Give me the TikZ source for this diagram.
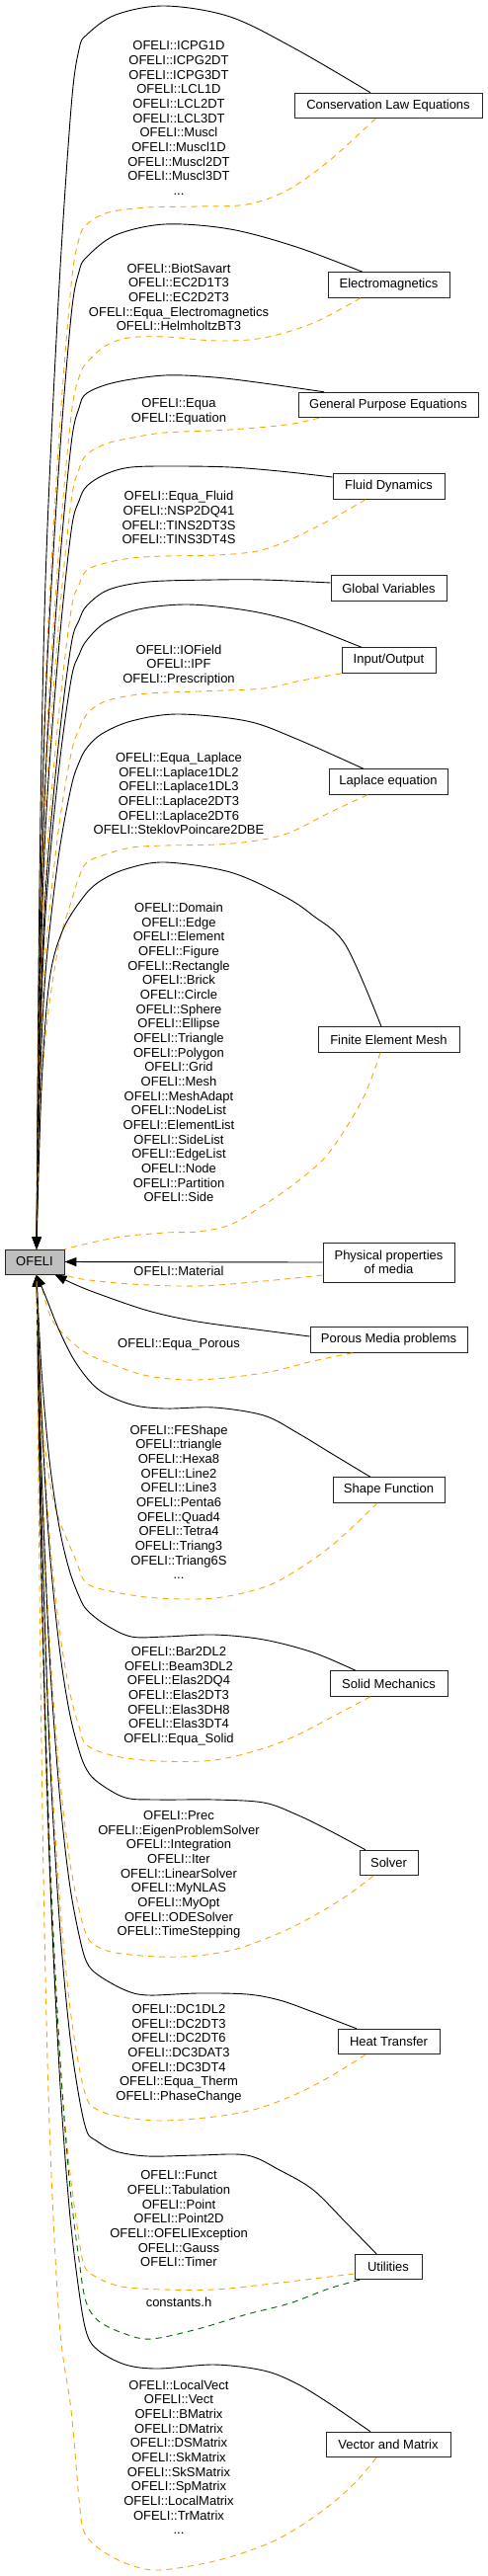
\documentclass[tikz,border=0pt]{standalone}
\usepackage{fontspec}
\setmainfont{Liberation Sans}
\usetikzlibrary{calc,arrows.meta}
\newcommand{\lblfont}{\fontsize{13pt}{14.67pt}\selectfont}
\definecolor{dxorange}{HTML}{FFA500}
\definecolor{dxgreen}{HTML}{006400}
\definecolor{dxgray}{HTML}{BFBFBF}
\begin{document}
\begin{tikzpicture}[x=1pt,y=-1pt,
  box/.style={draw=black!85, line width=0.9pt, fill=white, minimum height=25.5pt, inner sep=0pt, font=\lblfont},
  lbl/.style={font=\lblfont, align=center, inner sep=0pt},
  sedge/.style={draw=black, line width=0.9pt, -{Triangle[length=12pt,width=9pt]}},
  dedge/.style={draw=dxorange, line width=0.9pt, dash pattern=on 6pt off 5pt},
  gedge/.style={draw=dxgreen, line width=0.9pt, dash pattern=on 6pt off 5pt},
  sm/.style={smooth, tension=0.55}]
\useasboundingbox (0,0) rectangle (493,2608);

% ---------- nodes ----------
\node[box, minimum width=190pt] (cle) at (393,107) {Conservation Law Equations};
\node[box, minimum width=123pt] (em) at (393.5,288.5) {Electromagnetics};
\node[box, minimum width=182pt] (gpe) at (393,410) {General Purpose Equations};
\node[box, minimum width=113pt] (fd) at (393.5,492.5) {Fluid Dynamics};
\node[box, minimum width=117pt] (gv) at (393.5,595.5) {Global Variables};
\node[box, minimum width=95pt] (io) at (393.5,668.5) {Input/Output};
\node[box, minimum width=120pt] (lap) at (393,791.5) {Laplace equation};
\node[box, minimum width=143pt] (fem) at (393.5,1052.5) {Finite Element Mesh};
\node[box, minimum width=60pt, minimum height=25pt, fill=dxgray] (ofeli) at (35,1277.5) {OFELI};
\node[box, minimum width=133pt, minimum height=40pt, align=center] (phys) at (393.5,1278) {Physical properties\\of media};
\node[box, minimum width=159pt] (por) at (393.5,1356.5) {Porous Media problems};
\node[box, minimum width=113pt] (sf) at (393.5,1508.5) {Shape Function};
\node[box, minimum width=119pt] (smx) at (393.5,1704.5) {Solid Mechanics};
\node[box, minimum width=59pt] (sol) at (393.5,1886) {Solver};
\node[box, minimum width=103pt] (ht) at (393.5,2067) {Heat Transfer};
\node[box, minimum width=68pt] (ut) at (393,2295) {Utilities};
\node[box, minimum width=126pt] (vm) at (393,2475) {Vector and Matrix};

% ---------- labels ----------
\node[lbl] (cleL) at (181,119.6) {OFELI::ICPG1D\\OFELI::ICPG2DT\\OFELI::ICPG3DT\\OFELI::LCL1D\\OFELI::LCL2DT\\OFELI::LCL3DT\\OFELI::Muscl\\OFELI::Muscl1D\\OFELI::Muscl2DT\\OFELI::Muscl3DT\\...};
\node[lbl] (emL) at (181,301) {OFELI::BiotSavart\\OFELI::EC2D1T3\\OFELI::EC2D2T3\\OFELI::Equa\_Electromagnetics\\OFELI::HelmholtzBT3};
\node[lbl] (gpeL) at (181,416.6) {OFELI::Equa\\OFELI::Equation};
\node[lbl] (fdL) at (181,524.3) {OFELI::Equa\_Fluid\\OFELI::NSP2DQ41\\OFELI::TINS2DT3S\\OFELI::TINS3DT4S};
\node[lbl] (ioL) at (181,673.4) {OFELI::IOField\\OFELI::IPF\\OFELI::Prescription};
\node[lbl] (lapL) at (181,803.4) {OFELI::Equa\_Laplace\\OFELI::Laplace1DL2\\OFELI::Laplace1DL3\\OFELI::Laplace2DT3\\OFELI::Laplace2DT6\\OFELI::SteklovPoincare2DBE};
\node[lbl] (femL) at (181,1065.4) {OFELI::Domain\\OFELI::Edge\\OFELI::Element\\OFELI::Figure\\OFELI::Rectangle\\OFELI::Brick\\OFELI::Circle\\OFELI::Sphere\\OFELI::Ellipse\\OFELI::Triangle\\OFELI::Polygon\\OFELI::Grid\\OFELI::Mesh\\OFELI::MeshAdapt\\OFELI::NodeList\\OFELI::ElementList\\OFELI::SideList\\OFELI::EdgeList\\OFELI::Node\\OFELI::Partition\\OFELI::Side};
\node[lbl] (physL) at (181,1287.3) {OFELI::Material};
\node[lbl] (porL) at (181,1361.7) {OFELI::Equa\_Porous};
\node[lbl] (sfL) at (181,1520.7) {OFELI::FEShape\\OFELI::triangle\\OFELI::Hexa8\\OFELI::Line2\\OFELI::Line3\\OFELI::Penta6\\OFELI::Quad4\\OFELI::Tetra4\\OFELI::Triang3\\OFELI::Triang6S\\...};
\node[lbl] (smL) at (181,1717.3) {OFELI::Bar2DL2\\OFELI::Beam3DL2\\OFELI::Elas2DQ4\\OFELI::Elas2DT3\\OFELI::Elas3DH8\\OFELI::Elas3DT4\\OFELI::Equa\_Solid};
\node[lbl] (solL) at (181,1898) {OFELI::Prec\\OFELI::EigenProblemSolver\\OFELI::Integration\\OFELI::Iter\\OFELI::LinearSolver\\OFELI::MyNLAS\\OFELI::MyOpt\\OFELI::ODESolver\\OFELI::TimeStepping};
\node[lbl] (htL) at (181,2079.3) {OFELI::DC1DL2\\OFELI::DC2DT3\\OFELI::DC2DT6\\OFELI::DC3DAT3\\OFELI::DC3DT4\\OFELI::Equa\_Therm\\OFELI::PhaseChange};
\node[lbl] (utL) at (181,2246.3) {OFELI::Funct\\OFELI::Tabulation\\OFELI::Point\\OFELI::Point2D\\OFELI::OFELIException\\OFELI::Gauss\\OFELI::Timer};
\node[lbl] (cstL) at (181,2330.7) {constants.h};
\node[lbl] (vmL) at (181,2487.7) {OFELI::LocalVect\\OFELI::Vect\\OFELI::BMatrix\\OFELI::DMatrix\\OFELI::DSMatrix\\OFELI::SkMatrix\\OFELI::SkSMatrix\\OFELI::SpMatrix\\OFELI::LocalMatrix\\OFELI::TrMatrix\\...};

% ---------- anchor coordinates ----------
\coordinate (oT) at ($(ofeli.north)+(2,0)$);
\coordinate (oB) at ($(ofeli.south)+(2,0)$);
\coordinate (oTR) at (ofeli.north east);
\coordinate (oBR) at (ofeli.south east);
\coordinate (oPor) at ($(ofeli.south east)+(-10,0)$);
\coordinate (oPorD) at ($(ofeli.south)+(5,0)$);

\coordinate (cleA) at ($(cle.north)+(-18,0)$);
\coordinate (cleB) at ($(cle.south)+(-13,0)$);
\coordinate (emA) at ($(em.north)+(-26.5,0)$);
\coordinate (emB) at ($(em.south)+(-28.5,0)$);
\coordinate (gpeA) at ($(gpe.north)+(-65,0)$);
\coordinate (gpeB) at ($(gpe.south)+(-70,0)$);
\coordinate (fdA) at ($(fd.west)+(0,-9.5)$);
\coordinate (fdB) at ($(fd.south)+(-23.5,0)$);
\coordinate (gvA) at ($(gv.west)+(0,-5.5)$);
\coordinate (ioA) at ($(io.north)+(-27.5,0)$);
\coordinate (ioB) at (io.south west);
\coordinate (lapA) at ($(lap.north)+(-25,0)$);
\coordinate (lapB) at ($(lap.south)+(-21,0)$);
\coordinate (femA) at ($(fem.north)+(-7.5,0)$);
\coordinate (femB) at ($(fem.south)+(-8.5,0)$);
\coordinate (physB) at ($(phys.west)+(0,13)$);
\coordinate (porA) at ($(por.west)+(0,-3.5)$);
\coordinate (porB) at ($(por.south)+(-36.5,0)$);
\coordinate (sfA) at ($(sf.north)+(-18.5,0)$);
\coordinate (sfB) at ($(sf.south)+(-11.5,0)$);
\coordinate (smA) at ($(smx.north)+(-33.5,0)$);
\coordinate (smB) at ($(smx.south)+(-18.5,0)$);
\coordinate (solA) at ($(sol.north)+(-23.5,0)$);
\coordinate (solB) at ($(sol.south)+(-15.5,0)$);
\coordinate (htA) at ($(ht.north)+(-32.5,0)$);
\coordinate (htB) at ($(ht.south)+(-23.5,0)$);
\coordinate (utA) at ($(ut.north)+(-12,0)$);
\coordinate (utB) at ($(ut.west)+(0,7)$);
\coordinate (utG) at ($(ut.south)+(-29,0)$);
\coordinate (vmA) at ($(vm.north)+(-18,0)$);
\coordinate (vmB) at ($(vm.south)+(-12,0)$);

% ---------- groups above OFELI ----------
\draw[sedge] plot[sm] coordinates {(cleA) (300,50) (233,17) (167,6) (117,15) (88,35) (80,50) (72,109) (59,306) (46,589) (40,896) (oT)};
\draw[dedge] plot[sm] coordinates {(cleB) (333,163) (290,193) (250,207) (200,209) (150,210) (110,215) (88,227) (80,242) (72,289) (59,455) (46,694) (40,954) (oT)};

\draw[sedge] plot[sm] coordinates {(emA) (300,250) (233,232) (167,227) (117,238) (88,260) (80,275) (72,320) (59,481) (46,712) (40,964) (oT)};
\draw[dedge] plot[sm] coordinates {(emB) (317,327) (267,342) (220,345) (167,341) (130,342) (107,350) (88,367) (80,382) (72,421) (59,565) (46,771) (40,996) (oT)};

\draw[sedge] plot[sm] coordinates {(gpeA) (267,388) (217,382) (167,380) (117,387) (88,398) (80,413) (72,450) (59,589) (46,788) (40,1005) (oT)};
\draw[dedge] plot[sm] coordinates {(gpeB) (290,430) (233,435) (167,438) (135,443) (108,449) (88,460) (80,475) (72,508) (59,637) (46,822) (40,1024) (oT)};

\draw[sedge] plot[sm] coordinates {(fdA) (283,477) (233,473) (180,472) (133,473) (107,480) (88,492) (80,507) (72,538) (59,662) (46,840) (40,1033) (oT)};
\draw[dedge] plot[sm] coordinates {(fdB) (333,527) (290,548) (260,558) (220,562) (167,563) (133,565) (107,570) (88,577) (80,592) (72,618) (59,728) (46,887) (40,1059) (oT)};

\draw[sedge] plot[sm] coordinates {(gvA) (267,587) (217,587) (150,589) (110,597) (88,613) (80,628) (72,653) (59,756) (46,906) (40,1069) (oT)};

\draw[sedge] plot[sm] coordinates {(ioA) (300,630) (250,618) (190,612) (140,617) (107,630) (88,648) (80,663) (72,688) (59,784) (46,926) (40,1080) (oT)};
\draw[dedge] plot[sm] coordinates {(ioB) (300,690) (267,697) (200,700) (150,702) (117,707) (100,713) (88,723) (80,738) (72,763) (59,842) (46,967) (40,1102) (oT)};

\draw[sedge] plot[sm] coordinates {(lapA) (300,748) (250,730) (180,723) (133,730) (103,743) (88,757) (80,772) (72,797) (59,869) (46,986) (40,1113) (oT)};
\draw[dedge] plot[sm] coordinates {(lapB) (333,823) (293,843) (260,851) (220,855) (167,856) (133,858) (107,865) (88,873) (80,888) (72,913) (59,959) (46,1049) (40,1147) (oT)};

\draw[sedge] plot[sm] coordinates {(femA) (350,957) (317,927) (287,907) (233,883) (167,873) (127,880) (100,893) (83,910) (63,943) (50,993) (42,1100) (oT)};
\draw[dedge] plot[sm] coordinates {(femB) (367,1113) (333,1167) (300,1197) (267,1220) (233,1240) (200,1247) (167,1248) (117,1253) (oTR)};

% ---------- Physical properties, Porous ----------
\draw[sedge] (phys.west) -- (ofeli.east);
\draw[dedge] plot[sm] coordinates {(physB) (267,1297) (200,1302) (133,1300) (83,1295) (oBR)};

\draw[sedge] plot[sm] coordinates {(porA) (267,1347) (200,1338) (150,1327) (100,1310) (75,1300) (oPor)};
\draw[dedge] plot[sm] coordinates {(porB) (317,1378) (267,1390) (200,1397) (150,1393) (110,1380) (83,1367) (55,1340) (44,1310) (oPorD)};

% ---------- groups below OFELI ----------
\draw[sedge] plot[sm] coordinates {(sfA) (333,1470) (300,1450) (267,1433) (217,1425) (167,1426) (133,1422) (100,1407) (77,1380) (60,1347) (46,1312) (oB)};
\draw[dedge] plot[sm] coordinates {(sfB) (360,1543) (333,1567) (300,1590) (267,1607) (217,1618) (160,1618) (117,1612) (88,1603) (77,1580) (55,1523) (44,1450) (40,1380) (oB)};

\draw[sedge] plot[sm] coordinates {(smA) (317,1673) (267,1660) (217,1655) (167,1657) (133,1657) (107,1645) (88,1630) (80,1616) (70,1589) (60,1546) (50,1478) (42,1387) (oB)};
\draw[dedge] plot[sm] coordinates {(smB) (333,1740) (300,1757) (267,1770) (217,1782) (160,1783) (117,1778) (88,1767) (80,1748) (70,1710) (60,1648) (50,1553) (42,1425) (oB)};

\draw[sedge] plot[sm] coordinates {(solA) (333,1853) (300,1837) (267,1825) (217,1822) (160,1822) (127,1820) (100,1805) (88,1792) (80,1772) (70,1732) (60,1667) (50,1567) (42,1432) (oB)};
\draw[dedge] plot[sm] coordinates {(solB) (350,1920) (317,1940) (283,1957) (240,1973) (200,1980) (160,1981) (117,1977) (97,1970) (88,1960) (80,1933) (70,1880) (60,1793) (50,1659) (42,1479) (oB)};

\draw[sedge] plot[sm] coordinates {(htA) (317,2037) (283,2025) (250,2019) (200,2018) (150,2020) (127,2015) (100,2000) (88,1987) (80,1959) (70,1904) (60,1813) (50,1674) (42,1487) (oB)};
\draw[dedge] plot[sm] coordinates {(htB) (333,2103) (300,2120) (260,2135) (217,2143) (160,2147) (117,2142) (97,2135) (88,2125) (80,2092) (70,2025) (60,1917) (50,1750) (42,1525) (oB)};

\draw[sedge] plot[sm] coordinates {(utA) (350,2250) (317,2217) (283,2197) (250,2182) (200,2182) (150,2183) (117,2178) (97,2167) (88,2158) (80,2123) (70,2054) (60,1942) (50,1768) (42,1534) (oB)};
\draw[dedge] plot[sm] coordinates {(utB) (317,2307) (267,2313) (217,2318) (167,2318) (123,2315) (97,2305) (85,2293) (78,2253) (68,2173) (58,2043) (48,1843) (41,1572) (oB)};
\draw[gedge] plot[sm] coordinates {(utG) (333,2317) (293,2332) (250,2343) (200,2358) (153,2368) (127,2363) (100,2350) (87,2330) (80,2288) (70,2205) (60,2070) (50,1863) (42,1583) (oB)};

\draw[sedge] plot[sm] coordinates {(vmA) (333,2433) (300,2413) (267,2400) (217,2394) (160,2398) (127,2394) (100,2380) (88,2363) (80,2320) (70,2234) (60,2095) (50,1881) (42,1592) (oB)};
\draw[dedge] plot[sm] coordinates {(vmB) (360,2513) (333,2537) (300,2560) (267,2577) (217,2593) (160,2602) (127,2595) (100,2580) (85,2563) (80,2530) (72,2440) (60,2350) (50,2150) (44,1900) (40,1600) (oB)};

\end{tikzpicture}
\end{document}
